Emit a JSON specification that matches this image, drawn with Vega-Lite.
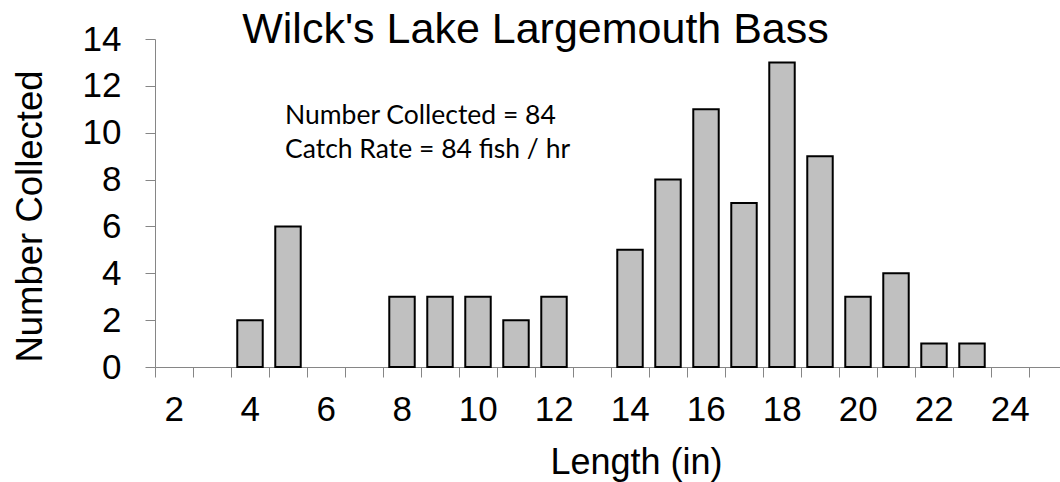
{
  "$schema": "https://vega.github.io/schema/vega-lite/v6.json",
  "autosize": {"type": "none"},
  "padding": {"left": 155, "top": 39, "right": 0, "bottom": 115},
  "width": 905,
  "height": 328,
  "background": "white",
  "title": {
    "text": "Wilck's Lake Largemouth Bass",
    "font": "Liberation Sans",
    "fontSize": 43,
    "fontWeight": "normal",
    "color": "black",
    "anchor": "middle",
    "frame": "group",
    "dx": -72,
    "baseline": "alphabetic",
    "offset": -64
  },
  "config": {"view": {"stroke": null}},
  "layer": [
    {
      "data": {"values": [
        {"length": 2, "count": 0}, {"length": 3, "count": 0}, {"length": 4, "count": 2},
        {"length": 5, "count": 6}, {"length": 6, "count": 0}, {"length": 7, "count": 0},
        {"length": 8, "count": 3}, {"length": 9, "count": 3}, {"length": 10, "count": 3},
        {"length": 11, "count": 2}, {"length": 12, "count": 3}, {"length": 13, "count": 0},
        {"length": 14, "count": 5}, {"length": 15, "count": 8}, {"length": 16, "count": 11},
        {"length": 17, "count": 7}, {"length": 18, "count": 13}, {"length": 19, "count": 9},
        {"length": 20, "count": 3}, {"length": 21, "count": 4}, {"length": 22, "count": 1},
        {"length": 23, "count": 1}, {"length": 24, "count": 0}, {"length": 25, "count": 0},
        {"length": 26, "count": 0}
      ]},
      "transform": [{"filter": "datum.count > 0"}],
      "mark": {"type": "bar", "fill": "#c0c0c0", "stroke": "black", "strokeWidth": 2},
      "encoding": {
        "x": {
          "field": "length",
          "type": "ordinal",
          "scale": {
            "domain": [2, 3, 4, 5, 6, 7, 8, 9, 10, 11, 12, 13, 14, 15, 16, 17, 18, 19, 20, 21, 22, 23, 24, 25, 26],
            "range": [0, 950],
            "paddingInner": 0.33,
            "paddingOuter": 0.165
          },
          "axis": {
            "title": "Length (in)",
            "bandPosition": 0,
            "tickOffset": -6.27,
            "labelOffset": 6,
            "tickSize": 10,
            "tickColor": "#868686",
            "domainColor": "#868686",
            "grid": false,
            "labelAngle": 0,
            "labelOverlap": false,
            "labelExpr": "datum.value % 2 == 0 && datum.value <= 24 ? datum.value : ''",
            "labelFont": "Liberation Sans",
            "labelFontSize": 35,
            "labelColor": "black",
            "labelPadding": 15,
            "titleFont": "Liberation Sans",
            "titleFontSize": 36,
            "titleFontWeight": "normal",
            "titleColor": "black",
            "titleX": 481,
            "titleY": 106,
            "titleBaseline": "alphabetic",
            "titleAlign": "center"
          }
        },
        "y": {
          "field": "count",
          "type": "quantitative",
          "scale": {"domain": [0, 14]},
          "axis": {
            "title": "Number Collected",
            "values": [0, 2, 4, 6, 8, 10, 12, 14],
            "tickSize": 10,
            "tickColor": "#868686",
            "domainColor": "#868686",
            "grid": false,
            "labelFont": "Liberation Sans",
            "labelFontSize": 35,
            "labelColor": "black",
            "labelPadding": 24,
            "titleFont": "Liberation Sans",
            "titleFontSize": 36.5,
            "titleFontWeight": "normal",
            "titleColor": "black",
            "titleAngle": 270,
            "titleX": -114,
            "titleY": 177,
            "titleBaseline": "alphabetic",
            "titleAlign": "center"
          }
        }
      }
    },
    {
      "data": {"values": [
        {"length": 5, "level": 10.37, "note": "Number Collected = 84"},
        {"length": 5, "level": 8.92, "note": "Catch Rate = 84 fish / hr"}
      ]},
      "mark": {"type": "text", "font": "Lato", "fontSize": 26.5, "align": "left", "baseline": "alphabetic", "dx": -3, "color": "black"},
      "encoding": {
        "x": {"field": "length", "type": "ordinal"},
        "y": {"field": "level", "type": "quantitative"},
        "text": {"field": "note"}
      }
    }
  ]
}
